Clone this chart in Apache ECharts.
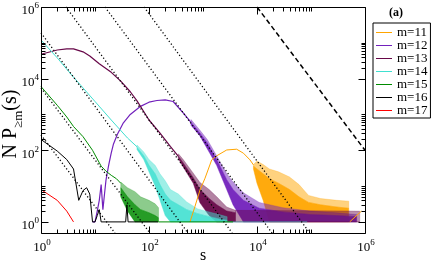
<!DOCTYPE html>
<html><head><meta charset="utf-8">
<script src="https://cdn.jsdelivr.net/npm/echarts@6/dist/echarts.min.js"></script>
<style>html,body{margin:0;padding:0;background:#fff}#c{width:431px;height:263px}</style>
</head><body><div id="c"></div>
<script>
// ---- data ----
const names = ['m=11','m=12','m=13','m=14','m=15','m=16','m=17'];
const colors = ['#FFA500','#7221BC','#670748','#40E0D0','#008B00','#000000','#FF0000'];

// smooth parts: [s, N P(s)]; noisy parts: [s, low, dense-top, spike-top]
const m11Line = [[575,1],[710,2.7],[880,7.8],[1090,16.6],[1450,54],[1790,70],[2750,102],[4200,107],[5600,83],[7400,54],[8600,39]];
const m11Band = [[8600,30,36,40],[10000,12,30,50],[13000,4,22,40],[17000,1,16,30],[25000,1,12,25],[40000,1,8,18],[60000,1,5,11],[90000,1,3.5,5.5],[150000,1,3,4.5],[300000,1,2.6,4],[500000,1,2.4,3.8]];
const m11Tail = [[520000,1],[860000,2]];

const m12Line = [[9,1],[10,1],[11,2],[12,4],[13,11],[14,2.2],[15,6],[16,15],[17,25],[18,40],[20,85],[22,150],[26,280],[33,560],[45,1000],[68,1650],[100,2200],[140,2450],[200,2550],[280,2300],[430,1100],[600,600]];
const m12Band = [[600,500,600,720],[880,250,300,360],[1200,110,160,200],[1790,38,55,70],[2750,8,15,22],[3600,3,8,13],[5600,1,4,6.5],[11000,1,2.4,3.5],[30000,1,1.9,2.5],[97000,1,1.6,2],[300000,1,1.5,1.8],[700000,1,1.4,1.6]];

const m13Line = [[1,4.8e4],[2,6.3e4],[3,6.8e4],[4,6.8e4],[6,5.6e4],[8,4.3e4],[12,2.6e4],[20,1.5e4],[30,8.5e3],[45,4.3e3],[60,2.4e3],[100,700],[160,300],[250,126],[350,68]];
const m13Band = [[350,58,68,80],[430,34,44,55],[660,12,17,23],[880,3.4,8,12.5],[1300,1.5,4.5,8],[1800,1,3,5],[2750,1,2,2.6],[4000,1,1.8,2.1]];
const m13Floor = [[4000,1,1,2.1],[800000,1,1,2]];

const m14Line = [[1,1.2e5],[2,3.8e4],[4,1.1e4],[10,2.3e3],[20,700],[40,220],[60,125]];
const m14Band = [[60,105,120,140],[80,55,70,90],[100,25,38,55],[130,10,22,38],[160,4,11,22],[200,1.5,6,14],[250,1,4,8],[350,1,3,6],[500,1,2.2,3.6],[800,1,1.7,2.3],[1300,1,1.4,1.9],[2000,1,1.2,1.6],[2800,1,1.1,1.4]];
const m14Floor = [[2800,1],[85000,1]];

const m15Line = [[1,6000],[2,1800],[3,850],[4,460],[6,240],[9,100],[13,36],[16,26],[20,20],[25,16],[30,12]];
const m15Band = [[30,5,9,13],[40,2,5,9],[55,1,3,7],[70,1,2.2,5],[100,1,1.8,4],[130,1,1.5,3.2],[150,1,1.3,2.5]];
const m15Floor = [[150,1],[3600,1]];

const m16Line = [[1,200],[2,95],[3,55],[4,30],[5,4],[6,7.5],[7,9],[8,6],[9,1],[10,1],[11,1.5],[12,2.2],[13,1],[37,1],[39,3],[41,1],[147,1]];
const m17Line = [[1,8],[2,4],[3,2],[4,1]];

// reference power laws (endpoints read on the frame)
const dottedLines = [
  [[1,270],[23.4,0.49]],
  [[1,5500],[104,0.49]],
  [[1,1.9e5],[527,0.49]],
  [[2.9,1e6],[3470,0.49]],
  [[15.3,1e6],[19000,0.49]],
  [[81,1e6],[95000,0.49]]
];
const dashedLine = [[1e4,1e6],[1e6,100]];

// axes
const xMin = 1, xMax = 1e6, yMin = 0.49, yMax = 1e6;
const majorTicks = [1,100,1e4,1e6];
const minorTicks = [2,3,4,5,6,7,8,9,10,200,300,400,500,600,700,800,900,1000,2e4,3e4,4e4,5e4,6e4,7e4,8e4,9e4,1e5];
const tickExponents = ['0','2','4','6'];

// ---- chart ----
const FONT = 'Liberation Serif';
const series = [];
function addLine(name, data, color, width, opacity, type){
  series.push({type:'line', name, data, symbol:'none', showSymbol:false, silent:true, z:2,
    color, itemStyle:{color}, lineStyle:{color, width, opacity:(opacity==null?1:opacity), type:type||'solid'}});
}
// noisy region: dense part (low..mid) solid, sparse spikes (mid..high) lighter
function addBand(name, data, color, dense, sparse){
  series.push({type:'custom', name, data, encode:{x:0,y:[1,3]}, silent:true, z:2,
    renderItem(params, api){
      if(params.dataIndex!==0) return null;
      const P = (k)=>data.map(d=>api.coord([d[0],d[k]]));
      const lo = P(1), mid = P(2), hi = P(3);
      return {type:'group', children:[
        {type:'polygon', shape:{points:hi.concat(mid.slice().reverse())}, style:{fill:color, stroke:color, lineWidth:0.5, opacity:sparse}},
        {type:'polygon', shape:{points:mid.concat(lo.slice().reverse())}, style:{fill:color, stroke:color, lineWidth:0.5, opacity:dense}}
      ]};
    }});
}
// m=11
addBand('b11', m11Band, colors[0], 0.95, 0.5);
addLine(names[0], m11Line, colors[0], 1);
addLine('t11', m11Tail, colors[0], 1);
// m=12
addLine(names[1], m12Line, colors[1], 1.2);
addBand('b12', m12Band, colors[1], 0.95, 0.5);
// m=13
addBand('f13', m13Floor, colors[2], 0.45, 0.45);
addLine(names[2], m13Line, colors[2], 1.2);
addBand('b13', m13Band, colors[2], 0.95, 0.5);
// m=14
addLine(names[3], m14Line, colors[3], 1);
addBand('b14', m14Band, colors[3], 0.9, 0.5);
addLine('f14', m14Floor, colors[3], 1, 0.6);
// m=15
addLine(names[4], m15Line, colors[4], 1);
addBand('b15', m15Band, colors[4], 0.85, 0.45);
addLine('f15', m15Floor, colors[4], 1);
// m=16, m=17
addLine(names[5], m16Line, colors[5], 1);
addLine(names[6], m17Line, colors[6], 1);
// reference lines
dottedLines.forEach((d,i)=>addLine('dot'+i, d, '#000', 1.3, 1, [1.2,2.3]));
addLine('dash', dashedLine, '#000', 1.5, 1, [5,3]);

// frame, ticks, tick labels
const richLab = {
  b:{fontFamily:FONT, fontSize:13, lineHeight:16, verticalAlign:'bottom', color:'#000'},
  s:{fontFamily:FONT, fontSize:9, lineHeight:2, verticalAlign:'top', color:'#000'}
};
series.push({type:'custom', name:'axes', data:[[1,1]], silent:true, z:10, clip:false,
  renderItem(params, api){
    const cs = params.coordSys;
    const L = Math.floor(cs.x)+0.5, R = Math.floor(cs.x+cs.width)+0.5;
    const T = Math.floor(cs.y)+0.5, B = Math.floor(cs.y+cs.height)+0.5;
    const ch = [];
    const st = {stroke:'#000', lineWidth:1, fill:null};
    ch.push({type:'rect', shape:{x:L,y:T,width:R-L,height:B-T}, style:st});
    const tick = (v, len)=>{
      const px = Math.round(api.coord([v, yMin])[0])+0.5;
      ch.push({type:'line', shape:{x1:px,y1:B,x2:px,y2:B-len}, style:st});
      ch.push({type:'line', shape:{x1:px,y1:T,x2:px,y2:T+len}, style:st});
      const py = Math.round(api.coord([xMin, v])[1])+0.5;
      if(py>=T && py<=B){
        ch.push({type:'line', shape:{x1:L,y1:py,x2:L+len,y2:py}, style:st});
        ch.push({type:'line', shape:{x1:R,y1:py,x2:R-len,y2:py}, style:st});
      }
    };
    majorTicks.forEach(v=>tick(v,7));
    minorTicks.forEach(v=>tick(v,4));
    majorTicks.forEach((v,i)=>{
      const txt = '{b|10}{s|'+tickExponents[i]+'}';
      const px = api.coord([v, yMin])[0];
      ch.push({type:'text', x:px+1, y:cs.y+cs.height+13, style:{text:txt, rich:richLab, align:'center', verticalAlign:'middle'}});
      const py = api.coord([xMin, v])[1];
      ch.push({type:'text', x:cs.x-2, y:py+2.5, style:{text:txt, rich:richLab, align:'right', verticalAlign:'middle'}});
    });
    return {type:'group', children:ch};
  }});

const lineIcon = 'path://M0,0h0.05v0.05h-0.05z M0,5.6h16v1.2h-16z M0,12.35h0.05v0.05h-0.05z';
const option = {
  animation:false,
  backgroundColor:'#fff',
  grid:{left:41, top:7, width:324, height:226, show:false},
  xAxis:{type:'log', logBase:10, min:xMin, max:xMax, show:false},
  yAxis:{type:'log', logBase:10, min:yMin, max:yMax, show:false},
  legend:{data:names.map(n=>({name:n, icon:lineIcon})), orient:'vertical', left:373, top:23, padding:[3,3,1,3],
    itemWidth:16, itemHeight:12.4, itemGap:0, symbolKeepAspect:false,
    borderColor:'#000', borderWidth:1, backgroundColor:'#fff', selectedMode:false,
    textStyle:{fontFamily:FONT, fontSize:13, color:'#000'}},
  graphic:[
    {type:'text', x:396, y:12.5, style:{text:'(a)', font:'bold 12px "Liberation Serif"', fill:'#000', align:'center', verticalAlign:'middle'}},
    {type:'text', x:203, y:256, style:{text:'s', font:'16px "Liberation Serif"', fill:'#000', align:'center', verticalAlign:'middle'}},
    {type:'text', x:13, y:124, rotation:Math.PI/2, style:{text:'{a|N P}{c|≥m}{a|(s)}', align:'center', verticalAlign:'middle',
      rich:{a:{fontFamily:FONT, fontSize:20, lineHeight:24, verticalAlign:'top', color:'#000'},
            c:{fontFamily:FONT, fontSize:13, lineHeight:12, verticalAlign:'bottom', color:'#000'}}}}
  ],
  series
};
const chart = echarts.init(document.getElementById('c'));
chart.setOption(option);
</script></body></html>
